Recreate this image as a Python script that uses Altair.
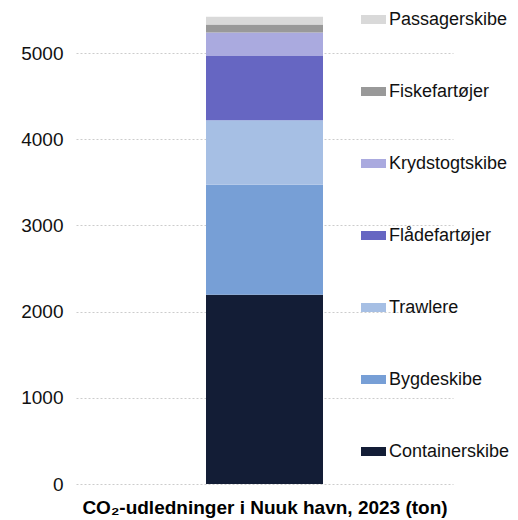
import altair as alt
import pandas as pd

categories = ["Containerskibe", "Bygdeskibe", "Trawlere", "Flådefartøjer",
              "Krydstogtskibe", "Fiskefartøjer", "Passagerskibe"]
values = [2195, 1278, 747, 745, 275, 93, 88]
colors = ["#131d36", "#779fd6", "#a6bfe4", "#6666c2", "#aaaadf", "#999999", "#d9d9d9"]
y_ticks = [0, 1000, 2000, 3000, 4000, 5000]
title_text = "CO₂-udledninger i Nuuk havn, 2023 (ton)"

df = pd.DataFrame({
    "group": ["Nuuk"] * len(categories),
    "kategori": categories,
    "ton": values,
    "rank": list(range(len(categories))),
})

legend_order = list(reversed(categories))
legend_colors = list(reversed(colors))

chart = alt.Chart(df).mark_bar(size=117).encode(
    x=alt.X("group:N", axis=alt.Axis(labels=False, ticks=False, domain=False,
                                     title=title_text, titleFont="Liberation Sans",
                                     titleFontSize=19, titleFontWeight="bold",
                                     titleColor="#000000", titlePadding=14)),
    y=alt.Y("ton:Q", stack="zero",
            scale=alt.Scale(domain=[0, 5500], nice=False),
            axis=alt.Axis(values=y_ticks, title=None, ticks=False, domain=False,
                          format="d",
                          labelFont="Liberation Sans", labelFontSize=19,
                          labelColor="#111111", labelPadding=13,
                          grid=True, gridColor="#cccccc", gridDash=[2, 2], gridWidth=1)),
    color=alt.Color("kategori:N",
                    scale=alt.Scale(domain=legend_order, range=legend_colors),
                    legend=alt.Legend(title=None, orient="none", legendX=285, legendY=-3,
                                      symbolType="M-1,-0.36L1,-0.36L1,0.36L-1,0.36Z",
                                      symbolSize=625, symbolStrokeWidth=0,
                                      symbolOpacity=1,
                                      labelFont="Liberation Sans", labelFontSize=18,
                                      labelColor="#111111", labelOffset=3,
                                      rowPadding=50, padding=0,
                                      labelLimit=300)),
    order=alt.Order("rank:Q", sort="ascending"),
).properties(
    width=377,
    height=474,
    autosize=alt.AutoSizeParams(type="none"),
    padding={"left": 68, "top": 2, "right": 57, "bottom": 40},
).configure_view(stroke=None)

chart.save("out.html", embed_options={"renderer": "svg", "actions": False})
